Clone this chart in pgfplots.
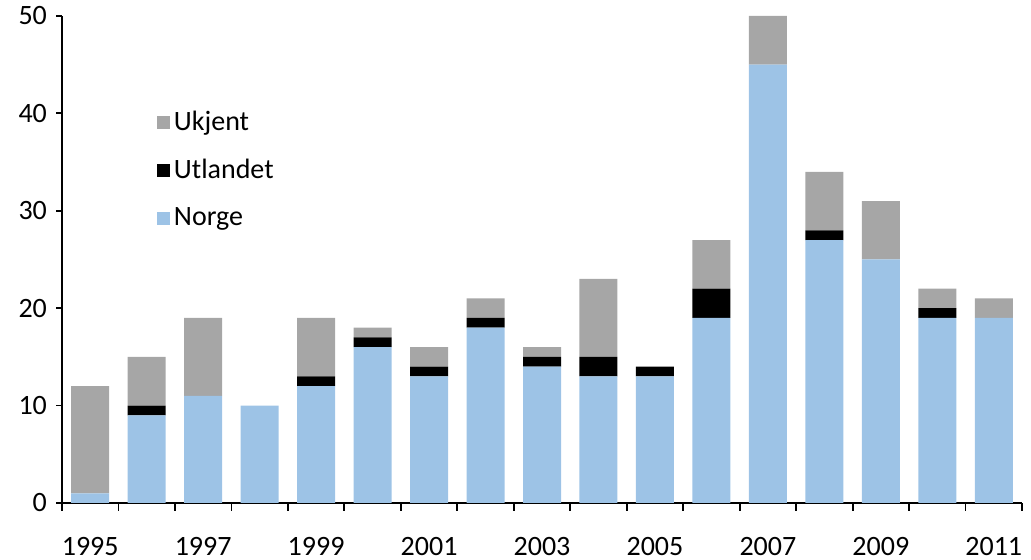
\documentclass[border=0pt]{standalone}
\usepackage{pgfplots}
\pgfplotsset{compat=1.18}
\usepackage{pgfplotstable}
\usepackage{fontspec}
\setmainfont{Carlito}
\definecolor{norge}{RGB}{157,195,230}
\definecolor{ukjent}{RGB}{166,166,166}
\definecolor{utland}{RGB}{0,0,0}

% year index (0 = 1995), Norge, Utlandet, Ukjent
\pgfplotstableread{
x  norge utland ukjent
0  1  0  11
1  9  1  5
2  11 0  8
3  10 0  0
4  12 1  6
5  16 1  1
6  13 1  2
7  18 1  2
8  14 1  1
9  13 2  8
10 13 1  0
11 19 3  5
12 45 0  5
13 27 1  6
14 25 0  6
15 19 1  2
16 19 0  2
}\data

\begin{document}
\begin{tikzpicture}
% fixed page frame around the plot area
\useasboundingbox (-31pt,-28.5pt) rectangle (484.5pt,251.5pt);
\begin{axis}[
  scale only axis,
  width=480pt, height=243.5pt,
  ybar stacked, bar width=19pt,
  xmin=-0.5, xmax=16.5,
  ymin=0, ymax=50,
  axis lines=left,
  axis line style={-, line width=0.9pt},
  tick style={black, line width=0.9pt},
  tick align=outside,
  xtick={0,2,...,16},
  xticklabels={1995,1997,1999,2001,2003,2005,2007,2009,2011},
  major x tick style={draw=none},
  minor xtick={-0.5,0.5,...,16.5},
  minor tick length=4pt,
  xticklabel style={yshift=-10.5pt},
  ytick={0,10,...,50},
  major tick length=3pt,
  yticklabel style={xshift=-1pt},
  /pgf/number format/assume math mode=true,
  ticklabel style={font=\fontsize{14}{16}\selectfont},
  legend style={draw=none, fill=none, at={(0.092,0.822)}, anchor=north west,
    font=\fontsize{14}{16}\selectfont, row sep=9pt,
    /tikz/every even column/.style={column sep=3.5pt}},
  legend cell align=left,
  reverse legend,
  legend image code/.code={\fill[#1] (0pt,-3.3pt) rectangle (6.6pt,3.3pt);},
]
\addplot[fill=norge, draw=none] table[x=x, y=norge] {\data};
\addlegendentry{Norge}
\addplot[fill=utland, draw=none] table[x=x, y=utland] {\data};
\addlegendentry{Utlandet}
\addplot[fill=ukjent, draw=none] table[x=x, y=ukjent] {\data};
\addlegendentry{Ukjent}
\end{axis}
\end{tikzpicture}
\end{document}
